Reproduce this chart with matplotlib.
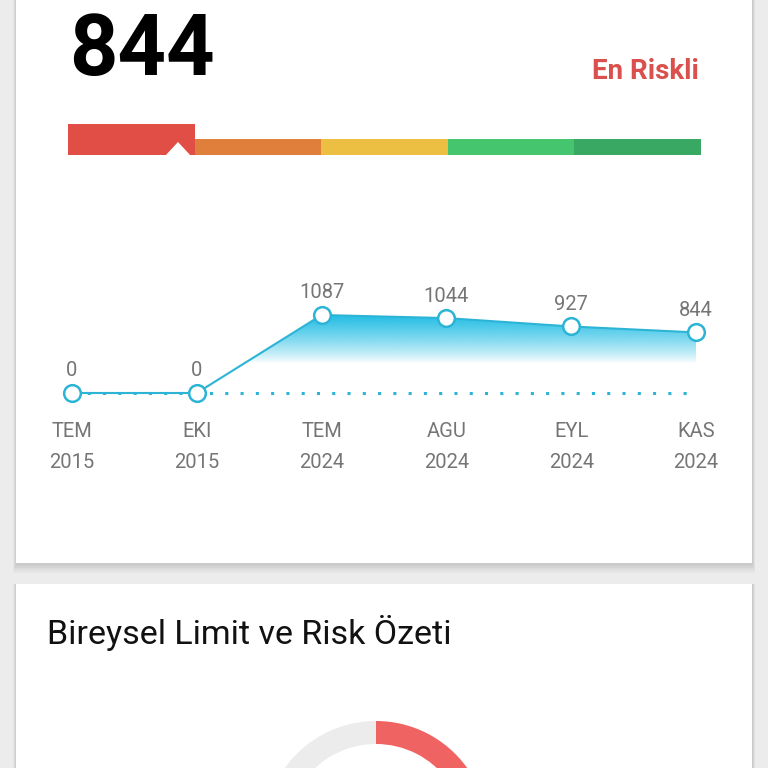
import matplotlib.pyplot as plt
import numpy as np
from matplotlib.patches import Rectangle, Polygon
import matplotlib.colors as mcolors

plt.rcParams['font.family'] = ['Roboto', 'DejaVu Sans']

# data
score = 844
risk_label = 'En Riskli'
band_colors = ['#e04e45', '#e07e3c', '#ecbf43', '#45c66e', '#38a862']
active_band = 0
months = ['TEM', 'EKI', 'TEM', 'AGU', 'EYL', 'KAS']
years = ['2015', '2015', '2024', '2024', '2024', '2024']
scores = [0, 0, 1087, 1044, 927, 844]
summary_title = 'Bireysel Limit ve Risk Özeti'
donut_parts = [30, 70]   # red / grey, only the top of the ring is on screen
donut_colors = ['#f06363', '#ececec']

LINE = '#2cb4d6'
GREY_TXT = '#757575'

fig = plt.figure(figsize=(7.68, 7.68), dpi=100)
fig.patch.set_facecolor('#ececec')

# page background in pixel coords
bg = fig.add_axes([0, 0, 1, 1])
bg.set_xlim(0, 768)
bg.set_ylim(768, 0)
bg.axis('off')

# cards with a soft shadow
for top, bottom in [(-20, 563), (584, 800)]:
    for k in range(1, 7):
        bg.add_patch(Rectangle((16 - k * 0.5, top), 736 + k, bottom - top + k * 1.6,
                               fc='black', alpha=0.025, lw=0))
    bg.add_patch(Rectangle((16, top), 736, bottom - top, fc='white', lw=0))

# score + label
bg.text(69, 75, str(score), fontsize=61, fontweight='bold', color='black',
        ha='left', va='baseline')
bg.text(699, 79, risk_label, fontsize=20, fontweight='bold', color='#d9504c',
        ha='right', va='baseline')

# risk band
seg_w = (701 - 68) / len(band_colors)
lefts = [68 + i * seg_w for i in range(len(band_colors))]
heights = [31 if i == active_band else 16 for i in range(len(band_colors))]
bg.bar(lefts, [-h for h in heights], width=seg_w, bottom=155, align='edge',
       color=band_colors, lw=0)
bg.add_patch(Polygon([(165, 156), (178, 142), (191, 156)], closed=True,
                     fc='white', lw=0))

# trend line chart
ax = fig.add_axes([72 / 768, 1 - 393 / 768, 624 / 768, 78 / 768])
ax.set_xlim(0, len(scores) - 1)
ax.set_ylim(0, max(scores))
ax.axis('off')
x = np.arange(len(scores))

# gradient under the line
grad = np.zeros((256, 1, 4))
grad[:, :, :3] = mcolors.to_rgb('#22bde4')
yy = np.linspace(0, max(scores), 256)
grad[:, 0, 3] = np.clip((yy - 420) / (max(scores) - 420), 0, 1) ** 0.8
poly = Polygon(list(zip(x, scores)) + [(x[-1], 0), (x[0], 0)], closed=True,
               transform=ax.transData, fc='none', lw=0)
ax.add_patch(poly)
im = ax.imshow(grad, extent=(0, x[-1], 0, max(scores)), origin='lower',
               aspect='auto', zorder=1)
im.set_clip_path(poly)

ax.plot([0, x[-1]], [0, 0], ls=(0, (1, 4)), color=LINE, lw=2.2, zorder=2,
        clip_on=False)
ax.plot(x, scores, color=LINE, lw=1.5, zorder=3, clip_on=False)
ax.plot(x, scores, 'o', ms=12, mfc='white', mec=LINE, mew=1.8, zorder=4,
        clip_on=False)

for i, v in enumerate(scores):
    ax.annotate(str(v), (i, v), xytext=(0, 9), textcoords='offset points',
                ha='center', va='bottom', fontsize=14.5, color=GREY_TXT)
    ax.annotate(months[i], (i, 0), xytext=(0, -28), textcoords='offset points',
                ha='center', va='center', fontsize=14.5, color=GREY_TXT)
    ax.annotate(years[i], (i, 0), xytext=(0, -50), textcoords='offset points',
                ha='center', va='center', fontsize=14.5, color=GREY_TXT)

# second card
bg.text(47, 644, summary_title, fontsize=24.5, color='#111111', ha='left',
        va='baseline')

dax = fig.add_axes([264 / 768, 1 - 945 / 768, 224 / 768, 224 / 768])
dax.pie(donut_parts, colors=donut_colors, startangle=90, counterclock=False,
        wedgeprops=dict(width=23 / 112, lw=0))
dax.set_xlim(-1, 1)
dax.set_ylim(-1, 1)
dax.axis('off')

fig.savefig('out.png', dpi=100, facecolor=fig.get_facecolor())
